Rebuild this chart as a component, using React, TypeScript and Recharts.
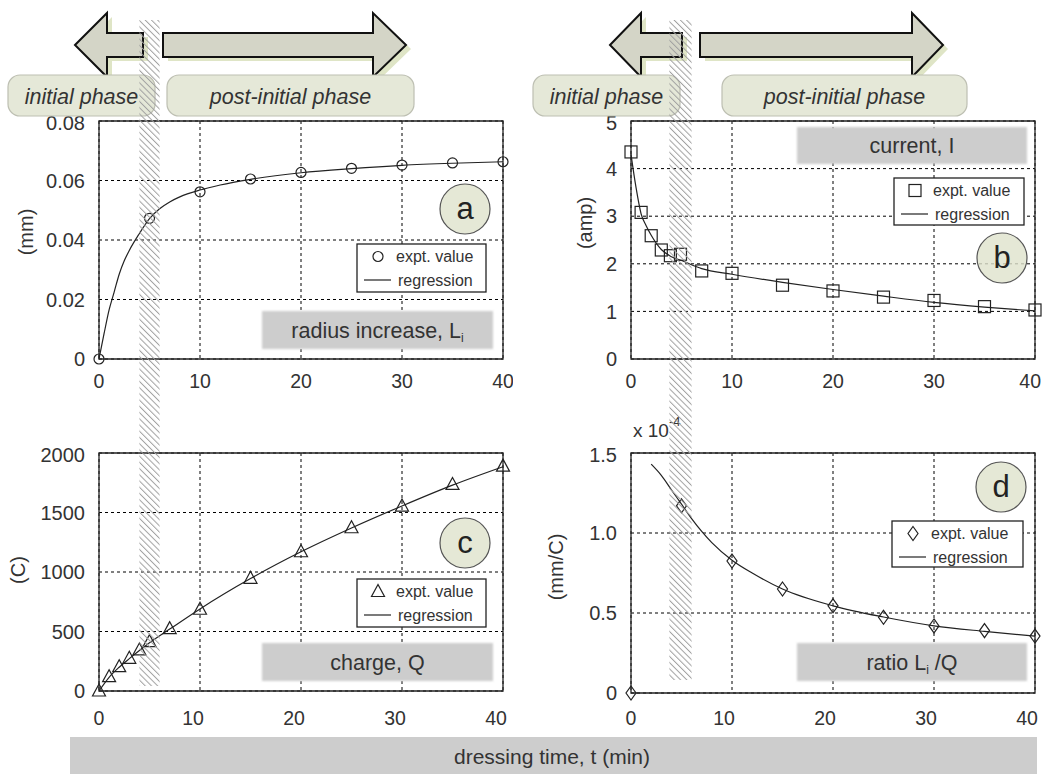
import React from 'react';
import { ComposedChart, Line, Scatter, XAxis, YAxis, CartesianGrid, ReferenceArea } from 'recharts';

const FONT = '"Liberation Sans", Arial, Helvetica, sans-serif';

// dressing time axis (min)
const xTicks = [0, 10, 20, 30, 40];

// (a) radius increase Li (mm)
const aExptT = [0, 5, 10, 15, 20, 25, 30, 35, 40];
const aExptL = [0, 0.0473, 0.0562, 0.0605, 0.0627, 0.0641, 0.0652, 0.0659, 0.0663];
const aRegT = [0, 0.5, 1, 1.5, 2, 2.5, 3, 4, 5, 6, 7, 8, 10, 12, 15, 20, 25, 30, 35, 40];
const aRegL = [0, 0.0085, 0.0165, 0.0225, 0.0285, 0.033, 0.0365, 0.0422, 0.0472, 0.0505, 0.0528, 0.0545, 0.0568, 0.0585, 0.0604, 0.0626, 0.064, 0.0651, 0.0658, 0.0663];
const aTicks = [0, 0.02, 0.04, 0.06, 0.08];
const aTickLabels = ['0', '0.02', '0.04', '0.06', '0.08'];

// (b) current I (amp)
const bExptT = [0, 1, 2, 3, 3.9, 4.9, 7, 10, 15, 20, 25, 30, 35, 40];
const bExptI = [4.35, 3.08, 2.59, 2.29, 2.17, 2.2, 1.85, 1.8, 1.55, 1.43, 1.3, 1.23, 1.1, 1.03];
const bRegT = [0, 0.5, 1, 1.5, 2, 3, 4, 5, 7, 10, 15, 20, 25, 30, 35, 40];
const bRegI = [4.3, 3.6, 3.05, 2.8, 2.6, 2.3, 2.15, 2.07, 1.9, 1.78, 1.61, 1.46, 1.32, 1.19, 1.09, 1.01];
const bTicks = [0, 1, 2, 3, 4, 5];
const bTickLabels = ['0', '1', '2', '3', '4', '5'];

// (c) charge Q (C)
const cExptT = [0, 1, 2, 3, 4, 5, 7, 10, 15, 20, 25, 30, 35, 40];
const cExptQ = [0, 120, 204, 275, 345, 415, 524, 687, 947, 1170, 1372, 1554, 1736, 1890];
const cRegT = [0, 1, 2, 3, 4, 5, 7, 10, 15, 20, 25, 30, 35, 40];
const cRegQ = [0, 115, 200, 272, 340, 405, 520, 690, 945, 1170, 1370, 1555, 1730, 1885];
const cTicks = [0, 500, 1000, 1500, 2000];
const cTickLabels = ['0', '500', '1000', '1500', '2000'];

// (d) ratio Li/Q (x 1e-4 mm/C)
const dExptT = [0, 5, 10, 15, 20, 25, 30, 35, 40];
const dExptR = [0, 1.17, 0.825, 0.65, 0.545, 0.473, 0.419, 0.39, 0.356];
const dRegT = [2, 3, 4, 5, 6, 7, 8, 10, 12, 15, 20, 25, 30, 35, 40];
const dRegR = [1.43, 1.36, 1.27, 1.18, 1.09, 1.01, 0.94, 0.83, 0.75, 0.65, 0.545, 0.475, 0.42, 0.385, 0.355];
const dTicks = [0, 0.5, 1, 1.5];
const dTickLabels = ['0', '0.5', '1.0', '1.5'];

const zip = (t: number[], v: number[]) => t.map((x, i) => ({ t: x, v: v[i] }));

type Box = { x: number; y: number; w: number; h: number };
const PLOT_A: Box = { x: 99, y: 121, w: 404, h: 238 };
const PLOT_B: Box = { x: 631, y: 121, w: 404, h: 238 };
const PLOT_C: Box = { x: 99, y: 453, w: 404, h: 238 };
const PLOT_D: Box = { x: 631, y: 453, w: 404, h: 240 };

const PAGE_W = 1043;
const INK = '#222';
const TXT = '#333';
const X_FONT = 19.5;

const markers: Record<string, (cx: number, cy: number) => React.ReactElement> = {
  circle: (cx, cy) => <circle cx={cx} cy={cy} r={5} fill="none" stroke={INK} strokeWidth={1.2} />,
  square: (cx, cy) => <rect x={cx - 6} y={cy - 6} width={12} height={12} fill="none" stroke={INK} strokeWidth={1.2} />,
  triangle: (cx, cy) => (
    <polygon points={`${cx},${cy - 7} ${cx - 6.5},${cy + 5} ${cx + 6.5},${cy + 5}`} fill="none" stroke={INK} strokeWidth={1.2} />
  ),
  diamond: (cx, cy) => (
    <polygon points={`${cx},${cy - 7} ${cx + 5},${cy} ${cx},${cy + 7} ${cx - 5},${cy}`} fill="none" stroke={INK} strokeWidth={1.2} />
  ),
};

interface PanelProps {
  plot: Box;
  expt: { t: number; v: number }[];
  reg: { t: number; v: number }[];
  ticks: number[];
  tickLabels: string[];
  marker: string;
  xMargin: number;
  xShift: number;
}

function Panel({ plot, expt, reg, ticks, tickLabels, marker, xMargin, xShift }: PanelProps) {
  const W = plot.w + 100;
  const H = plot.h + 55;
  const left = plot.x - 90;
  const yMax = ticks[ticks.length - 1];
  const draw = markers[marker];

  // x tick label: multi-digit labels nudged like the original, kept inside the page
  const XTick = (p: any) => {
    const label = String(p.payload.value);
    const half = (label.length * 0.556 * X_FONT) / 2;
    let cx = p.x + (label.length > 1 ? xShift : 0);
    const maxX = PAGE_W - 2 - left - half;
    if (cx > maxX) cx = maxX;
    return (
      <text x={cx} y={p.y} dy="0.71em" textAnchor="middle" fontSize={X_FONT} fill={TXT} fontFamily={FONT}>
        {label}
      </text>
    );
  };

  return (
    <div style={{ position: 'absolute', left, top: plot.y - 10 }}>
      <ComposedChart width={W} height={H} margin={{ top: 10, right: 10, bottom: 0, left: 0 }}>
        <CartesianGrid stroke="#000" strokeDasharray="3 3" />
        <XAxis
          type="number"
          dataKey="t"
          domain={[0, 40]}
          ticks={xTicks}
          height={45}
          tickLine={false}
          axisLine={false}
          tickMargin={xMargin}
          tick={XTick}
        />
        <YAxis
          type="number"
          dataKey="v"
          domain={[0, yMax]}
          ticks={ticks}
          width={90}
          tickLine={false}
          axisLine={false}
          tickMargin={8}
          tickFormatter={(v: number) => tickLabels[ticks.indexOf(v)] ?? String(v)}
          tick={{ fontSize: 20, fill: TXT, fontFamily: FONT }}
        />
        <ReferenceArea x1={0} x2={40} y1={0} y2={yMax} fill="none" stroke={INK} strokeWidth={1.3} />
        <Line
          data={reg}
          dataKey="v"
          type="monotone"
          stroke={INK}
          strokeWidth={1.2}
          dot={false}
          isAnimationActive={false}
        />
        <Scatter
          data={expt}
          dataKey="v"
          isAnimationActive={false}
          shape={(p: any) => draw(p.cx, p.cy)}
        />
      </ComposedChart>
    </div>
  );
}

function LegendBox({ x, y, w, h, marker }: { x: number; y: number; w: number; h: number; marker: string }) {
  return (
    <g>
      <rect x={x} y={y} width={w} height={h} fill="#fff" stroke={INK} strokeWidth={1.3} />
      {markers[marker](x + 21, y + 12.5)}
      <text x={x + 39} y={y + 18} fontSize={16} fill={TXT}>expt. value</text>
      <line x1={x + 7} x2={x + 34} y1={y + 36} y2={y + 36} stroke={INK} strokeWidth={1.2} />
      <text x={x + 41} y={y + 41.5} fontSize={16} fill={TXT}>regression</text>
    </g>
  );
}

function Badge({ cx, cy, label }: { cx: number; cy: number; label: string }) {
  return (
    <g>
      <circle cx={cx} cy={cy} r={25} fill="#dfe2cc" fillOpacity={0.8} stroke="#555" strokeWidth={1.2} />
      <text x={cx} y={cy + 10} fontSize={31} textAnchor="middle" fill="#222">{label}</text>
    </g>
  );
}

function GreyLabel({ x, y, w, h, children }: { x: number; y: number; w: number; h: number; children: React.ReactNode }) {
  return (
    <g>
      <rect x={x} y={y} width={w} height={h} fill="#cdcdcd" filter="url(#soft)" />
      <text x={x + w / 2} y={y + h / 2 + 7.5} fontSize={21.5} textAnchor="middle" fill={TXT}>{children}</text>
    </g>
  );
}

function PhaseArrows({ tip, headL, shaftR, shaftL, headR, tipR }: { tip: number; headL: number; shaftR: number; shaftL: number; headR: number; tipR: number }) {
  const left = `${tip},45 ${headL},13 ${headL},33 ${shaftR},33 ${shaftR},57 ${headL},57 ${headL},77`;
  const right = `${shaftL},33 ${headR},33 ${headR},13 ${tipR},45 ${headR},77 ${headR},57 ${shaftL},57`;
  return (
    <g>
      <polygon points={left} fill="#dfe5c6" transform="translate(5,4)" />
      <polygon points={right} fill="#dfe5c6" transform="translate(5,4)" />
      <polygon points={left} fill="#d4d5c7" stroke="#111" strokeWidth={2} />
      <polygon points={right} fill="#d4d5c7" stroke="#111" strokeWidth={2} />
    </g>
  );
}

function PhaseBox({ x, w, label }: { x: number; w: number; label: string }) {
  return (
    <g>
      <rect x={x} y={75} width={w} height={41} rx={12} fill="#e5e8d8" stroke="#bdbfb2" strokeWidth={1.2} />
      <text x={x + w / 2} y={103.5} fontSize={21.5} fontStyle="italic" textAnchor="middle" fill={TXT}>{label}</text>
    </g>
  );
}

const hatchX = (p: Box, t: number) => p.x + (t / 40) * p.w;

export default function App() {
  return (
    <div style={{ position: 'absolute', left: 0, top: 0, width: PAGE_W, height: 774, background: '#fff', fontFamily: FONT, overflow: 'hidden' }}>
      <Panel plot={PLOT_A} expt={zip(aExptT, aExptL)} reg={zip(aRegT, aRegL)} ticks={aTicks} tickLabels={aTickLabels} marker="circle" xMargin={9} xShift={0} />
      <Panel plot={PLOT_B} expt={zip(bExptT, bExptI)} reg={zip(bRegT, bRegI)} ticks={bTicks} tickLabels={bTickLabels} marker="square" xMargin={9} xShift={0} />
      <Panel plot={PLOT_C} expt={zip(cExptT, cExptQ)} reg={zip(cRegT, cRegQ)} ticks={cTicks} tickLabels={cTickLabels} marker="triangle" xMargin={14} xShift={-7} />
      <Panel plot={PLOT_D} expt={zip(dExptT, dExptR)} reg={zip(dRegT, dRegR)} ticks={dTicks} tickLabels={dTickLabels} marker="diamond" xMargin={12} xShift={-8} />

      <svg width={PAGE_W} height={774} style={{ position: 'absolute', left: 0, top: 0, pointerEvents: 'none', fontFamily: FONT }}>
        <defs>
          <pattern id="hatch" width={4.4} height={4.4} patternUnits="userSpaceOnUse" patternTransform="rotate(-45)">
            <line x1={0.5} y1={0} x2={0.5} y2={4.4} stroke="#a0a0a0" strokeWidth={1} />
          </pattern>
          <filter id="soft" x="-5%" y="-10%" width="110%" height="120%">
            <feGaussianBlur stdDeviation={1.2} />
          </filter>
        </defs>

        {/* phase arrows + labels */}
        <PhaseArrows tip={75} headL={107} shaftR={143} shaftL={163} headR={373} tipR={406} />
        <PhaseArrows tip={610} headL={641} shaftR={682} shaftL={700} headR={912} tipR={943} />
        <PhaseBox x={8} w={147} label="initial phase" />
        <PhaseBox x={167} w={247} label="post-initial phase" />
        <PhaseBox x={533} w={147} label="initial phase" />
        <PhaseBox x={722} w={245} label="post-initial phase" />

        {/* axis titles */}
        <text transform="translate(33,232) rotate(-90)" fontSize={20} textAnchor="middle" fill={TXT}>(mm)</text>
        <text transform="translate(592,223) rotate(-90)" fontSize={20} textAnchor="middle" fill={TXT}>(amp)</text>
        <text transform="translate(25,570) rotate(-90)" fontSize={20} textAnchor="middle" fill={TXT}>(C)</text>
        <text transform="translate(563,567) rotate(-90)" fontSize={20} textAnchor="middle" fill={TXT}>(mm/C)</text>
        <text x={633} y={437} fontSize={19} fill={TXT}>
          x 10<tspan fontSize={13} dy={-11}>-4</tspan>
        </text>

        {/* panel labels */}
        <GreyLabel x={262} y={311} w={231} h={38}>
          radius increase, L<tspan fontSize={12} dy={4}>i</tspan>
        </GreyLabel>
        <GreyLabel x={797} y={127} w={230} h={37}>current, I</GreyLabel>
        <GreyLabel x={262} y={643} w={231} h={38}>charge, Q</GreyLabel>
        <GreyLabel x={797} y={643} w={230} h={38}>
          ratio L<tspan fontSize={12} dy={4}>i</tspan><tspan dy={-4}> /Q</tspan>
        </GreyLabel>

        <LegendBox x={357} y={244} w={129} h={48} marker="circle" />
        <LegendBox x={894} y={178} w={130} h={47} marker="square" />
        <LegendBox x={357} y={579} w={129} h={48} marker="triangle" />
        <LegendBox x={892} y={521} w={131} h={46} marker="diamond" />

        <Badge cx={465} cy={209} label="a" />
        <Badge cx={1002} cy={258} label="b" />
        <Badge cx={465} cy={543} label="c" />
        <Badge cx={1001} cy={487} label="d" />

        {/* shared x title */}
        <rect x={70} y={737} width={967} height={40} fill="#cdcdcd" />
        <text x={552} y={764} fontSize={21} textAnchor="middle" fill={TXT}>dressing time, t (min)</text>

        {/* transition band t = 4..6 */}
        <rect x={hatchX(PLOT_A, 4)} y={20} width={hatchX(PLOT_A, 6) - hatchX(PLOT_A, 4)} height={666} fill="url(#hatch)" />
        <rect x={hatchX(PLOT_B, 3.8)} y={20} width={hatchX(PLOT_B, 6) - hatchX(PLOT_B, 3.8)} height={660} fill="url(#hatch)" />
      </svg>
    </div>
  );
}
